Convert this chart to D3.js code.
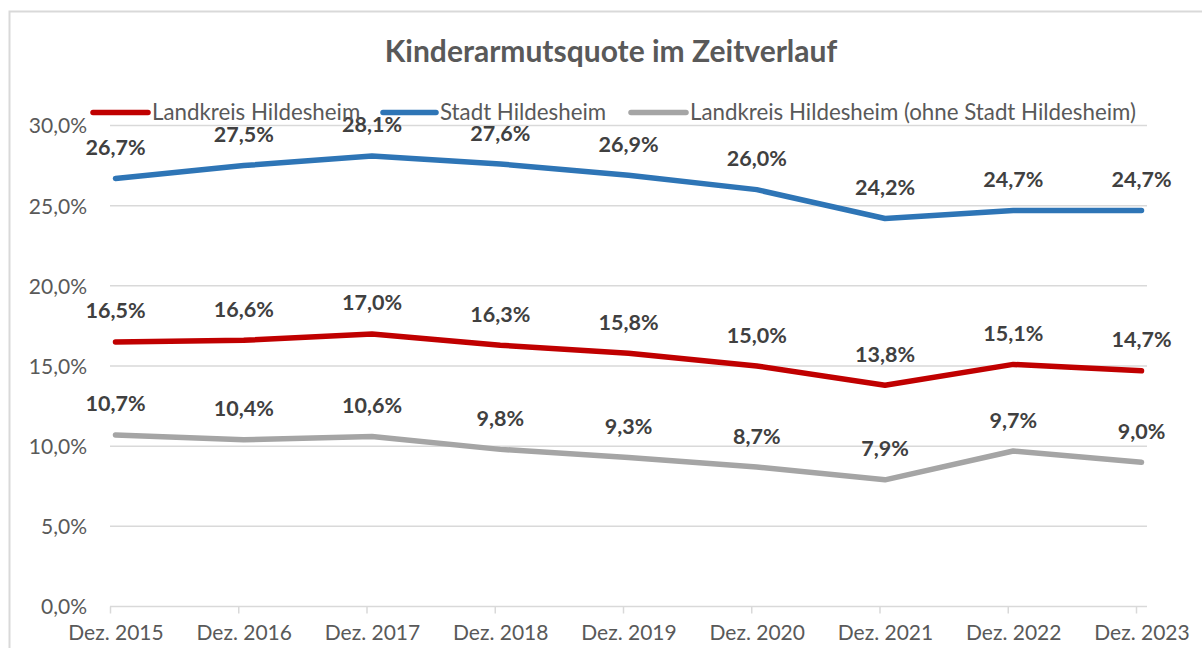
<!DOCTYPE html>
<html>
<head>
<meta charset="utf-8">
<script src="https://cdn.jsdelivr.net/npm/d3@7"></script>
<style>
  html, body { margin: 0; padding: 0; background: #fff; }
  svg { display: block; }
  text { font-family: Lato, "Open Sans", sans-serif; }
</style>
</head>
<body>
<svg id="chart" width="1202" height="648"></svg>
<script>
// Reporting dates (December of each year)
const categories = ["Dez. 2015", "Dez. 2016", "Dez. 2017", "Dez. 2018", "Dez. 2019",
                    "Dez. 2020", "Dez. 2021", "Dez. 2022", "Dez. 2023"];

// Child poverty rate in percent
const landkreis = [16.5, 16.6, 17.0, 16.3, 15.8, 15.0, 13.8, 15.1, 14.7];
const stadt     = [26.7, 27.5, 28.1, 27.6, 26.9, 26.0, 24.2, 24.7, 24.7];
const ohneStadt = [10.7, 10.4, 10.6, 9.8, 9.3, 8.7, 7.9, 9.7, 9.0];

const yTicks = [0, 5, 10, 15, 20, 25, 30];
const seriesNames = ["Landkreis Hildesheim", "Stadt Hildesheim",
                     "Landkreis Hildesheim (ohne Stadt Hildesheim)"];

const series = [
  { name: seriesNames[0], values: landkreis, color: "#C00000" },
  { name: seriesNames[1], values: stadt,     color: "#2E75B6" },
  { name: seriesNames[2], values: ohneStadt, color: "#A5A5A5" }
];

const svg = d3.select("#chart");
const fmt = v => v.toFixed(1).replace(".", ",");

// Outer chart frame
svg.append("rect")
  .attr("x", 9.5).attr("y", 11.5)
  .attr("width", 1210).attr("height", 660)
  .attr("fill", "#fff").attr("stroke", "#d9d9d9").attr("stroke-width", 2);

// Scales
const x = d3.scalePoint().domain(categories).range([115.5, 1141.5]);
const tickShift = -5.5;
const y = d3.scaleLinear().domain([0, 30]).range([606.5, 125.5]);

// Horizontal gridlines
svg.append("g")
  .selectAll("line")
  .data(yTicks.filter(t => t > 0))
  .join("line")
  .attr("x1", 110).attr("x2", 1147)
  .attr("y1", d => y(d)).attr("y2", d => y(d))
  .attr("stroke", "#d9d9d9").attr("stroke-width", 1.5);

// Y axis labels
const yAxis = d3.axisLeft(y).tickValues(yTicks).tickSize(0).tickPadding(0)
  .tickFormat(d => fmt(d) + "%");
svg.append("g")
  .attr("transform", "translate(87,0)")
  .call(yAxis)
  .call(g => g.select(".domain").remove())
  .call(g => g.selectAll("text")
    .attr("fill", "#595959").attr("font-size", 21).attr("dy", "0.35em"));

// X axis: tick marks sit slightly left of the category labels
const xAxis = d3.axisBottom(x).tickSize(7).tickPadding(12);
svg.append("g")
  .attr("transform", `translate(${tickShift},606.5)`)
  .call(xAxis)
  .call(g => g.select(".domain").attr("d", `M${110 - tickShift},0H${1147 - tickShift}`)
    .attr("stroke", "#d9d9d9").attr("stroke-width", 1.5))
  .call(g => g.selectAll(".tick line").attr("stroke", "#d9d9d9").attr("stroke-width", 1.5))
  .call(g => g.selectAll(".tick text")
    .attr("x", -tickShift)
    .attr("fill", "#595959").attr("font-size", 21).attr("dy", "0.71em"));

// Series lines
const line = d3.line()
  .x((d, i) => x(categories[i]))
  .y(d => y(d));

svg.append("g")
  .selectAll("path")
  .data(series)
  .join("path")
  .attr("d", s => line(s.values))
  .attr("fill", "none")
  .attr("stroke", s => s.color)
  .attr("stroke-width", 5.5)
  .attr("stroke-linejoin", "round")
  .attr("stroke-linecap", "round");

// Value labels above each point
series.forEach(s => {
  svg.append("g")
    .selectAll("text")
    .data(s.values)
    .join("text")
    .attr("x", (d, i) => x(categories[i]))
    .attr("y", d => y(d) - 31)
    .attr("dy", "0.35em")
    .attr("text-anchor", "middle")
    .attr("font-size", 21.5)
    .attr("font-weight", "bold")
    .attr("fill", "#404040")
    .text(d => fmt(d) + "%");
});

// Title
svg.append("text")
  .attr("x", 611).attr("y", 62)
  .attr("text-anchor", "middle")
  .attr("font-size", 30)
  .attr("font-weight", "bold")
  .attr("fill", "#595959")
  .text("Kinderarmutsquote im Zeitverlauf");

// Legend
const legendPos = [
  { x1: 93, x2: 148 },
  { x1: 383, x2: 436 },
  { x1: 631, x2: 686 }
];
const legend = svg.append("g");
series.forEach((s, i) => {
  const p = legendPos[i];
  legend.append("line")
    .attr("x1", p.x1).attr("x2", p.x2)
    .attr("y1", 112.5).attr("y2", 112.5)
    .attr("stroke", s.color).attr("stroke-width", 5.5)
    .attr("stroke-linecap", "round");
  legend.append("text")
    .attr("x", p.x2 + 4).attr("y", 120)
    .attr("font-size", 22.3)
    .attr("fill", "#595959")
    .text(s.name);
});
</script>
</body>
</html>
